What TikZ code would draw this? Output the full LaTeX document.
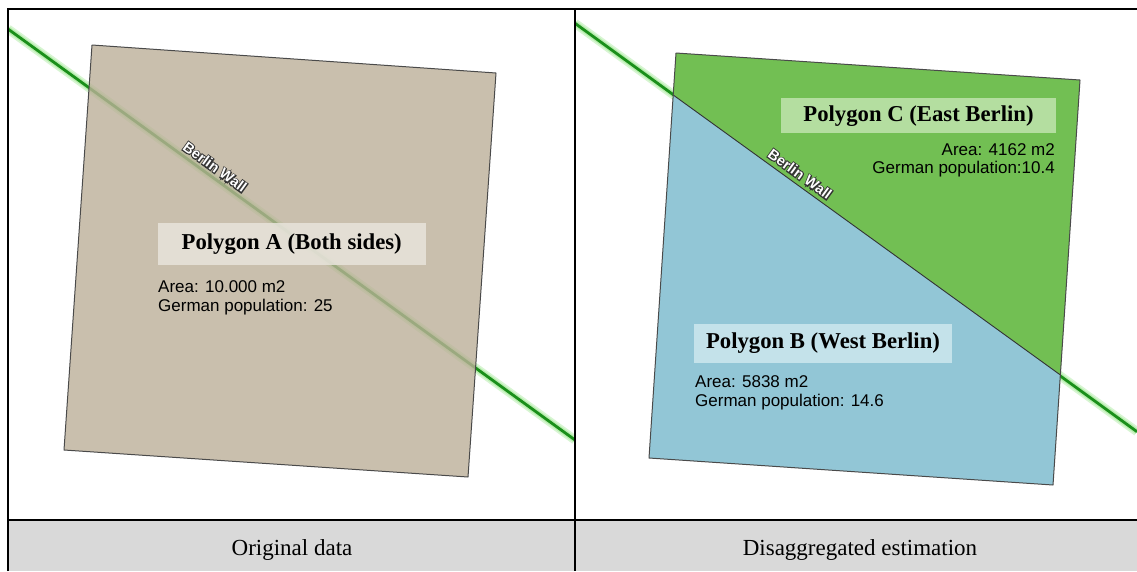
\documentclass[tikz,border=0pt]{standalone}
\usepackage{fontspec}
\setmainfont{Liberation Serif}
\setsansfont{Liberation Sans}
\newfontfamily\haloback[FakeBold=14]{Liberation Sans Bold}
\newfontfamily\halofront{Liberation Sans Bold}
\definecolor{polyA}{HTML}{BCB099}
\definecolor{boxA}{HTML}{E8E4DC}
\definecolor{polyC}{HTML}{72BF53}
\definecolor{boxC}{HTML}{B4DEA0}
\definecolor{polyB}{HTML}{92C6D6}
\definecolor{boxB}{HTML}{C4E2EA}
\definecolor{wallgreen}{HTML}{1A8F1A}
\definecolor{glowgreen}{HTML}{7CE06A}
\definecolor{edgegray}{HTML}{4A4A4A}
\definecolor{bandgray}{HTML}{D9D9D9}
\definecolor{halogray}{HTML}{333333}
\begin{document}
\begin{tikzpicture}[x=1pt,y=-1pt,
  wall/.style={draw=wallgreen,line width=2.8pt},
  glow/.style={draw=glowgreen,line width=9pt,opacity=0.3},
  glowin/.style={draw=glowgreen,line width=5.5pt,opacity=0.35},
  poly/.style={draw=edgegray,line width=1pt,line join=round},
  titlebox/.style={inner sep=0pt,font=\fontsize{22.7}{27}\selectfont\bfseries},
  info/.style={inner sep=0pt,font=\sffamily\fontsize{17}{20}\selectfont},
  caption/.style={inner sep=0pt,font=\fontsize{23}{27}\selectfont},
  haloB/.style={inner sep=0pt,rotate=-36,text=halogray,font=\haloback\fontsize{14.5}{16}\selectfont},
  haloF/.style={inner sep=0pt,rotate=-36,text=white,font=\halofront\fontsize{14.5}{16}\selectfont},
  frame/.style={draw=black}]
\useasboundingbox (0,0) rectangle (1137,571);
\fill[white] (0,0) rectangle (1137,571);

% ---------- left panel ----------
\coordinate (wA1) at (8,29);
\coordinate (wA2) at (575,440);
\coordinate (a1) at (92,45);
\coordinate (a2) at (496,73);
\coordinate (a3) at (468,477);
\coordinate (a4) at (64,450);
\begin{scope}
  \clip (8,9) rectangle (575,520);
  \draw[glow] (wA1) -- (wA2);
  \draw[glowin] (wA1) -- (wA2);
  \draw[wall] (wA1) -- (wA2);
  \filldraw[poly,fill=polyA,fill opacity=0.8] (a1) -- (a2) -- (a3) -- (a4) -- cycle;
\end{scope}
\node[haloB] (lblAb) at (215,167) {Berlin Wall};
\node[haloF] (lblA) at (215,167) {Berlin Wall};
\fill[boxA,opacity=0.85] (157.7,223.3) rectangle (425.7,265);
\node[titlebox] (tA) at (291.7,244.5) {Polygon A (Both sides)};
\node[info,anchor=base west] (areaA) at (158,292.5) {Area: 10.000 m2};
\node[info,anchor=base west] (popA) at (158,311.5) {German population: 25};

% ---------- right panel ----------
\coordinate (wR1) at (575,23.3);
\coordinate (wR2) at (1137,431.7);
\coordinate (c1) at (676,53);
\coordinate (c2) at (1080,80);
\coordinate (c3) at (1053,485);
\coordinate (c4) at (649,458);
\coordinate (iL) at (673.2,95);
\coordinate (iR) at (1060.4,375);
\begin{scope}
  \clip (575,9) rectangle (1137,520);
  \draw[glow] (wR1) -- (wR2);
  \draw[glowin] (wR1) -- (wR2);
  \draw[wall] (wR1) -- (wR2);
  \fill[polyC] (iL) -- (c1) -- (c2) -- (iR) -- cycle;
  \fill[polyB] (iL) -- (iR) -- (c3) -- (c4) -- cycle;
  \draw[draw=black!80,line width=0.9pt] (iL) -- (iR);
  \draw[poly] (c1) -- (c2) -- (c3) -- (c4) -- cycle;
\end{scope}
\node[haloB] (lblRb) at (800,174) {Berlin Wall};
\node[haloF] (lblR) at (800,174) {Berlin Wall};
\fill[boxC] (781,98.3) rectangle (1056,133.3);
\node[titlebox] (tC) at (918.5,115.8) {Polygon C (East Berlin)};
\node[info,anchor=base east] (areaC) at (1055,155.7) {Area: 4162 m2};
\node[info,anchor=base east] (popC) at (1055,173) {German population:10.4};
\fill[boxB] (694.3,324) rectangle (951.7,363.3);
\node[titlebox] (tB) at (823,343.6) {Polygon B (West Berlin)};
\node[info,anchor=base west] (areaB) at (695,387) {Area: 5838 m2};
\node[info,anchor=base west] (popB) at (695,406) {German population: 14.6};

% ---------- frame and captions ----------
\fill[bandgray] (8,520) rectangle (1137,571);
\draw[frame,line width=1.6pt] (8,520) -- (1137,520);
\draw[frame,line width=1.3pt] (575,9) -- (575,571);
\draw[frame,line width=2.2pt] (8,571) -- (8,9) -- (1137,9);
\node[caption,anchor=base] (capL) at (292,555) {Original data};
\node[caption,anchor=base] (capR) at (860,555) {Disaggregated estimation};
\end{tikzpicture}
\end{document}
